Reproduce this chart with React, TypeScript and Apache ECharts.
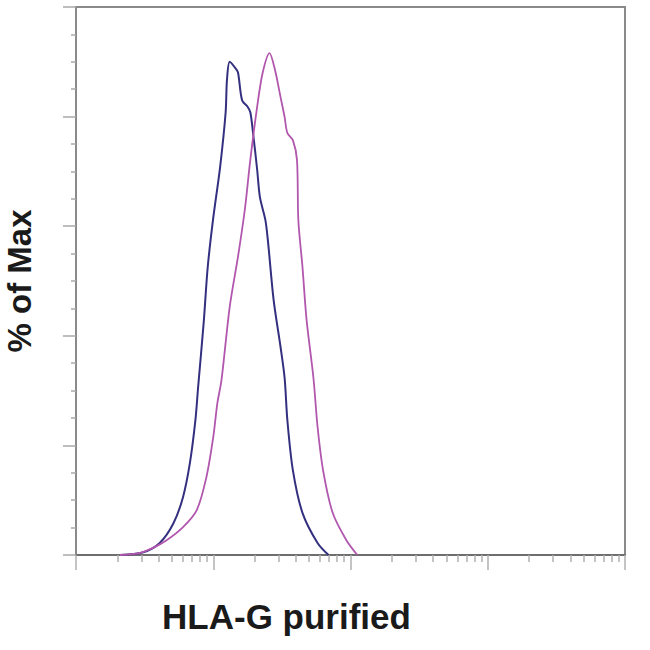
import * as echarts from "echarts";
import { useEffect, useRef } from "react";

// x values are log10 of fluorescence intensity (decades), y values are % of max
const blueLog = [0.32, 0.49, 0.61, 0.71, 0.78, 0.83, 0.87, 0.89, 0.93, 0.96, 1.0, 1.05, 1.09, 1.1, 1.12, 1.16, 1.18, 1.21, 1.25, 1.27, 1.29, 1.32, 1.34, 1.38, 1.4, 1.44, 1.49, 1.52, 1.54, 1.58, 1.65, 1.76, 1.84];
const bluePct = [0, 0.5, 2.2, 5.8, 10.6, 16.8, 24.6, 30.7, 42.3, 52.6, 61.5, 70.8, 80.7, 86.7, 90.0, 88.9, 88.1, 83.0, 81.8, 80.8, 77.0, 70.3, 65.3, 61.1, 56.9, 46.5, 38.0, 32.3, 24.6, 15.5, 7.7, 2.2, 0];

const pinkLog = [0.32, 0.47, 0.56, 0.66, 0.78, 0.88, 0.95, 1.0, 1.03, 1.06, 1.12, 1.18, 1.23, 1.27, 1.32, 1.36, 1.41, 1.45, 1.49, 1.52, 1.54, 1.58, 1.61, 1.62, 1.65, 1.68, 1.73, 1.76, 1.8, 1.87, 1.97, 2.05];
const pinkPct = [0, 0.4, 1.3, 2.7, 5.1, 8.2, 14.2, 21.5, 27.7, 31.9, 45.3, 54.4, 63.0, 72.1, 81.8, 88.0, 91.6, 88.5, 83.6, 79.9, 77.0, 75.7, 72.1, 61.1, 52.6, 42.9, 32.3, 23.4, 15.5, 7.7, 2.7, 0];

const decades = [0, 1, 2, 3];
const minorSteps = [2, 3, 4, 5, 6, 7, 8, 9];

const xTitle = "HLA-G purified";
const yTitle = "% of Max";

export default function App() {
  const ref = useRef<HTMLDivElement | null>(null);

  useEffect(() => {
    if (!ref.current) {
      return;
    }

    const minorTicks = decades.flatMap((d) => minorSteps.map((s) => d + Math.log10(s)));
    const font = "'Liberation Sans', Arial, sans-serif";

    const chart = echarts.init(ref.current, null, { renderer: "svg" });
    chart.setOption({
      animation: false,
      backgroundColor: "#ffffff",
      grid: {
        left: 76,
        right: 25,
        top: 7,
        bottom: 95,
        outerBoundsMode: "none",
        containLabel: false,
        show: true,
        borderColor: "#8a8a8a",
        borderWidth: 2
      },
      xAxis: [
        {
          type: "value",
          min: 0,
          max: 4,
          interval: 1,
          name: xTitle,
          nameLocation: "middle",
          nameGap: 44,
          nameTextStyle: {
            fontFamily: font,
            fontSize: 35,
            fontWeight: "bold",
            color: "#1a1a1a",
            padding: [0, 128, 0, 0]
          },
          axisLine: { show: true, lineStyle: { color: "#6e6e6e", width: 2 } },
          axisTick: { show: true, length: 15, lineStyle: { color: "#b0b0b0", width: 1.5 } },
          axisLabel: { show: false },
          splitLine: { show: false }
        },
        {
          type: "value",
          min: 0,
          max: 4,
          position: "bottom",
          axisLine: { show: false },
          axisTick: {
            show: true,
            length: 7,
            customValues: minorTicks,
            lineStyle: { color: "#b0b0b0", width: 1.5 }
          },
          axisLabel: { show: false },
          splitLine: { show: false }
        }
      ],
      yAxis: {
        type: "value",
        min: 0,
        max: 100,
        interval: 20,
        name: yTitle,
        nameLocation: "middle",
        nameGap: 40,
        nameRotate: 90,
        nameTextStyle: {
          fontFamily: font,
          fontSize: 33,
          lineHeight: 33,
          fontWeight: "bold",
          color: "#1a1a1a"
        },
        axisLine: { show: true, lineStyle: { color: "#8a8a8a", width: 2 } },
        axisTick: { show: true, length: 13, lineStyle: { color: "#a8a8a8", width: 1.5 } },
        minorTick: { show: true, splitNumber: 4, length: 5, lineStyle: { color: "#a8a8a8", width: 1.5 } },
        axisLabel: { show: false },
        splitLine: { show: false }
      },
      series: [
        {
          name: "isotype",
          type: "line",
          data: blueLog.map((x, i) => [x, bluePct[i]]),
          symbol: "none",
          smooth: 0.3,
          lineStyle: { color: "#34307f", width: 2 }
        },
        {
          name: "HLA-G",
          type: "line",
          data: pinkLog.map((x, i) => [x, pinkPct[i]]),
          symbol: "none",
          smooth: 0.3,
          lineStyle: { color: "#b157ae", width: 1.8 }
        }
      ]
    });

    return () => {
      chart.dispose();
    };
  }, []);

  return (
    <div
      ref={ref}
      style={{ position: "fixed", left: 0, top: 0, width: 650, height: 650 }}
    />
  );
}
